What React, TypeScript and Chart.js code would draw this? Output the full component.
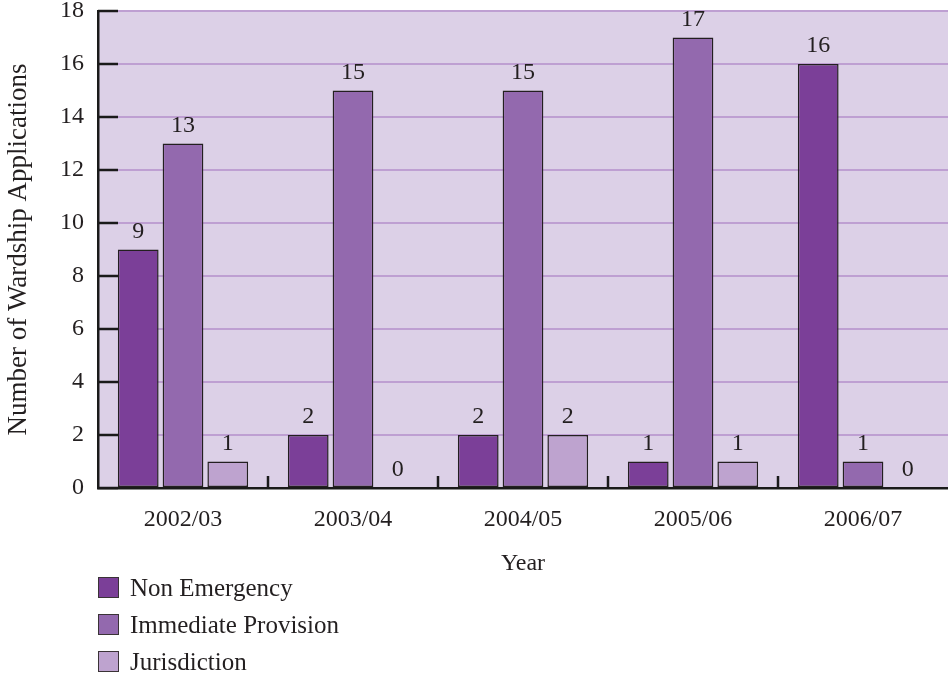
import React, { useEffect, useRef } from "react";
import { Chart, registerables } from "chart.js";

Chart.register(...registerables);

const categories = ["2002/03", "2003/04", "2004/05", "2005/06", "2006/07"];
const nonEmergency = [9, 2, 2, 1, 16];
const immediateProvision = [13, 15, 15, 17, 1];
const jurisdiction = [1, 0, 2, 1, 0];
const seriesNames = ["Non Emergency", "Immediate Provision", "Jurisdiction"];
const seriesColors = ["#7B3F98", "#9369AE", "#BEA3CF"];
const yMax = 18;
const yStep = 2;

const FONT = "'Liberation Serif', 'Times New Roman', serif";
const TEXT = "#231f20";
const CANVAS_W = 948;
const CANVAS_H = 577;

const decorPlugin = {
  id: "decor",
  beforeDraw(chart: any) {
    const { ctx, chartArea } = chart;
    ctx.save();
    ctx.fillStyle = "#DCD0E7";
    ctx.fillRect(chartArea.left, chartArea.top, chartArea.right - chartArea.left, chartArea.bottom - chartArea.top);
    ctx.restore();
  },
  afterDatasetsDraw(chart: any) {
    const { ctx, chartArea } = chart;
    const x = chart.scales.x;
    const y = chart.scales.y;
    ctx.save();
    ctx.strokeStyle = "#1a1a1a";
    ctx.lineWidth = 2.5;
    y.ticks.forEach((t: any) => {
      const py = y.getPixelForValue(t.value);
      ctx.beginPath();
      ctx.moveTo(chartArea.left, py);
      ctx.lineTo(chartArea.left + 20, py);
      ctx.stroke();
    });
    for (let i = 0; i < categories.length - 1; i++) {
      const px = (x.getPixelForValue(i) + x.getPixelForValue(i + 1)) / 2;
      ctx.beginPath();
      ctx.moveTo(px, chartArea.bottom);
      ctx.lineTo(px, chartArea.bottom - 12);
      ctx.stroke();
    }
    ctx.fillStyle = TEXT;
    ctx.font = `24px ${FONT}`;
    ctx.textAlign = "center";
    ctx.textBaseline = "alphabetic";
    chart.data.datasets.forEach((ds: any, di: number) => {
      const meta = chart.getDatasetMeta(di);
      meta.data.forEach((el: any, i: number) => {
        ctx.fillText(String(ds.data[i]), el.x, el.y - 12);
      });
    });
    ctx.restore();
  },
};

export default function App() {
  const ref = useRef<HTMLCanvasElement | null>(null);

  useEffect(() => {
    if (!ref.current) return;
    const data = [nonEmergency, immediateProvision, jurisdiction];
    const chart = new Chart(ref.current, {
      type: "bar",
      data: {
        labels: categories,
        datasets: data.map((d, i) => ({
          label: seriesNames[i],
          data: d,
          backgroundColor: seriesColors[i],
          borderColor: "#231f20",
          borderWidth: 1.5,
          borderSkipped: false,
          categoryPercentage: 0.79,
          barPercentage: 0.91,
        })),
      },
      options: {
        responsive: false,
        animation: false,
        layout: { padding: { top: 11, right: 0, left: 0, bottom: 0 } },
        plugins: {
          legend: { display: false },
          tooltip: { enabled: false },
        },
        scales: {
          x: {
            grid: { display: false },
            border: { display: true, color: "#1a1a1a", width: 2.5 },
            ticks: { color: TEXT, font: { family: FONT, size: 24 }, padding: 9 },
            title: {
              display: true,
              text: "Year",
              color: TEXT,
              font: { family: FONT, size: 24, lineHeight: 1 },
              padding: { top: 0, bottom: 1 },
            },
            afterFit(scale: any) {
              scale.height = CANVAS_H - 488;
            },
          },
          y: {
            min: 0,
            max: yMax,
            ticks: {
              stepSize: yStep,
              color: TEXT,
              font: { family: FONT, size: 24 },
              padding: 14,
            },
            grid: { color: "#BE9FD2", lineWidth: 2, drawTicks: false },
            border: { display: true, color: "#1a1a1a", width: 2.5 },
            title: {
              display: true,
              text: "Number of Wardship Applications",
              color: TEXT,
              font: { family: FONT, size: 27, lineHeight: 1 },
              padding: { top: 5, bottom: 0 },
            },
            afterFit(scale: any) {
              scale.width = 98;
              scale.paddingTop = 0;
              scale.paddingBottom = 0;
            },
          },
        },
      },
      plugins: [decorPlugin],
    });
    return () => chart.destroy();
  }, []);

  return (
    <div style={{ position: "absolute", left: 0, top: 0, width: CANVAS_W, height: 677, background: "#fff" }}>
      <canvas ref={ref} width={CANVAS_W} height={CANVAS_H} style={{ display: "block" }} />
      <div style={{ position: "absolute", left: 98, top: 569 }}>
        {seriesNames.map((name, i) => (
          <div key={name} style={{ display: "flex", alignItems: "center", height: 37 }}>
            <span
              style={{
                display: "inline-block",
                width: 21,
                height: 21,
                boxSizing: "border-box",
                border: "1px solid #3a3336",
                background: seriesColors[i],
              }}
            />
            <span style={{ marginLeft: 11, fontFamily: FONT, fontSize: 25, color: TEXT, lineHeight: "25px" }}>
              {name}
            </span>
          </div>
        ))}
      </div>
    </div>
  );
}
